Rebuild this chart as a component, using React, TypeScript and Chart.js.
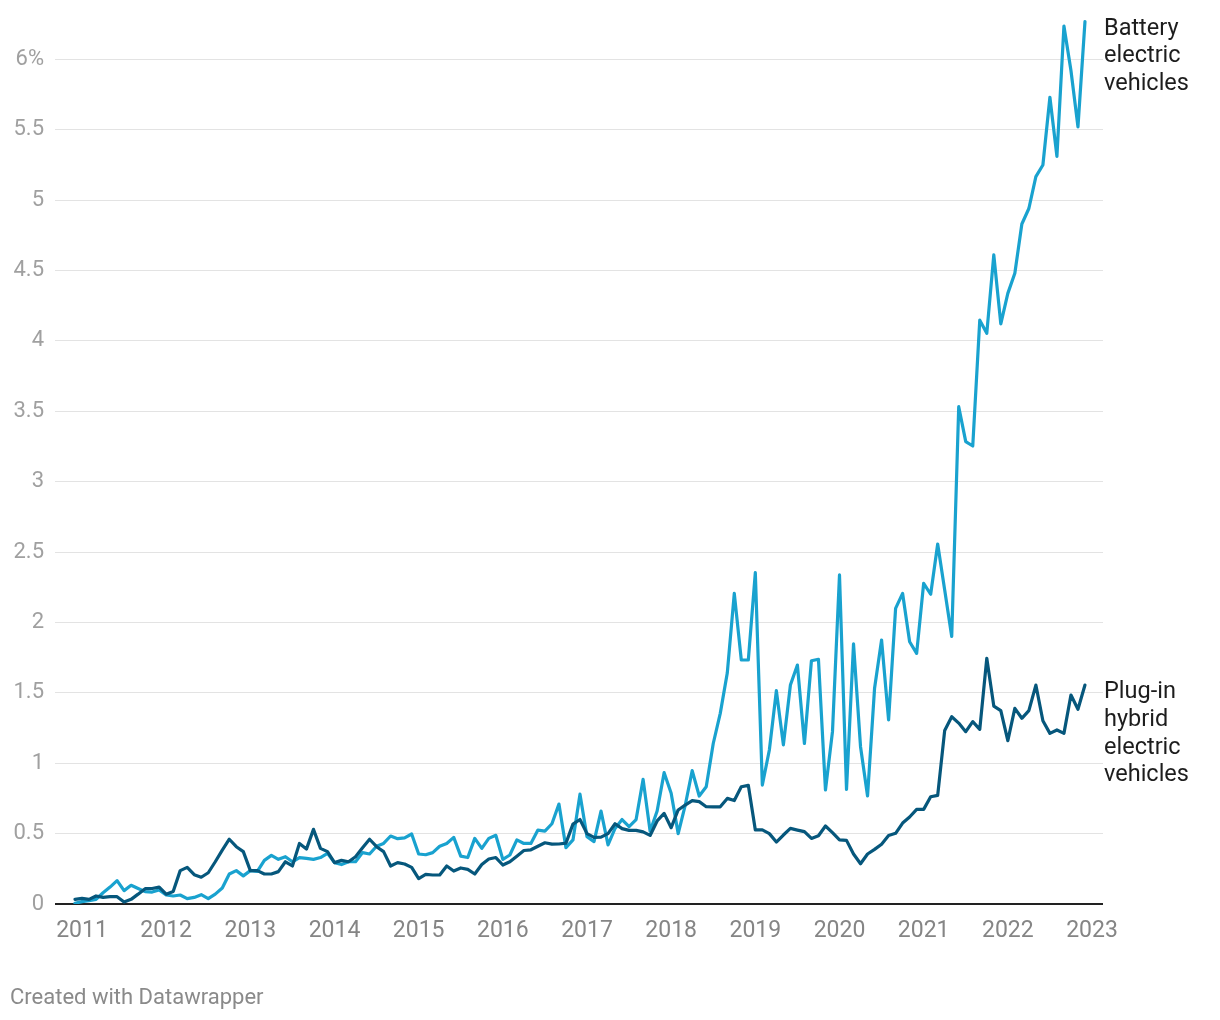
import React, { useEffect, useRef } from "react";
import { Chart, registerables } from "chart.js";

Chart.register(...registerables);

// Monthly share of new car registrations (%), Dec 2010 .. Dec 2022
const FIRST_MONTH_OFFSET = -1; // first point = Dec 2010 (months relative to Jan 2011)

const YEAR_LABELS = ["2011", "2012", "2013", "2014", "2015", "2016", "2017", "2018", "2019", "2020", "2021", "2022", "2023"];
const Y_TICKS = [0, 0.5, 1, 1.5, 2, 2.5, 3, 3.5, 4, 4.5, 5, 5.5, 6];
const Y_TICK_LABELS = ["0", "0.5", "1", "1.5", "2", "2.5", "3", "3.5", "4", "4.5", "5", "5.5", "6%"];

const BEV_LABEL = ["Battery", "electric", "vehicles"];
const PHEV_LABEL = ["Plug-in", "hybrid", "electric", "vehicles"];

const BEV = [
  0.005, 0.017, 0.024, 0.033, 0.08, 0.12, 0.166, 0.095, 0.133, 0.11, 0.088, 0.085, 0.1,
  0.064, 0.057, 0.064, 0.038, 0.047, 0.066, 0.038, 0.07, 0.114, 0.213, 0.237, 0.2,
  0.237, 0.232, 0.31, 0.345, 0.317, 0.336, 0.3, 0.33, 0.324, 0.317, 0.33, 0.36,
  0.294, 0.28, 0.3, 0.3, 0.365, 0.355, 0.41, 0.43, 0.483, 0.464, 0.47, 0.497,
  0.355, 0.35, 0.365, 0.41, 0.43, 0.473, 0.34, 0.33, 0.466, 0.395, 0.466, 0.488,
  0.317, 0.348, 0.455, 0.43, 0.43, 0.525, 0.518, 0.57, 0.71, 0.4, 0.455, 0.78,
  0.478, 0.443, 0.66, 0.42, 0.537, 0.6, 0.55, 0.6, 0.885, 0.517, 0.66, 0.933,
  0.786, 0.5, 0.7, 0.947, 0.767, 0.833, 1.14, 1.354, 1.64, 2.206, 1.733, 1.733,
  2.353, 0.845, 1.094, 1.515, 1.13, 1.555, 1.697, 1.14, 1.728, 1.738, 0.81, 1.224,
  2.337, 0.814, 1.847, 1.117, 0.767, 1.532, 1.875, 1.307, 2.1, 2.206, 1.863, 1.78,
  2.277, 2.2, 2.557, 2.23, 1.9, 3.532, 3.284, 3.253, 4.147, 4.053, 4.61, 4.12,
  4.337, 4.48, 4.83, 4.94, 5.166, 5.249, 5.73, 5.31, 6.236, 5.92, 5.52, 6.267,
];

const PHEV = [
  0.033, 0.04, 0.033, 0.057, 0.047, 0.052, 0.052, 0.014, 0.033, 0.07, 0.109, 0.11, 0.12,
  0.07, 0.088, 0.237, 0.26, 0.208, 0.19, 0.222, 0.3, 0.383, 0.46, 0.407, 0.372,
  0.237, 0.237, 0.213, 0.213, 0.23, 0.3, 0.27, 0.43, 0.39, 0.53, 0.395, 0.372,
  0.294, 0.31, 0.3, 0.336, 0.4, 0.46, 0.407, 0.372, 0.27, 0.294, 0.284, 0.26,
  0.18, 0.21, 0.206, 0.206, 0.27, 0.234, 0.256, 0.246, 0.213, 0.28, 0.32, 0.33,
  0.277, 0.3, 0.34, 0.38, 0.385, 0.41, 0.435, 0.425, 0.426, 0.432, 0.567, 0.6,
  0.5, 0.473, 0.475, 0.5, 0.57, 0.535, 0.523, 0.523, 0.512, 0.487, 0.59, 0.644,
  0.542, 0.668, 0.703, 0.734, 0.727, 0.691, 0.69, 0.69, 0.75, 0.735, 0.833, 0.843,
  0.526, 0.526, 0.5, 0.44, 0.49, 0.537, 0.525, 0.514, 0.466, 0.485, 0.554, 0.507,
  0.455, 0.452, 0.355, 0.286, 0.355, 0.388, 0.425, 0.487, 0.502, 0.575, 0.618, 0.672,
  0.672, 0.762, 0.772, 1.233, 1.33, 1.285, 1.224, 1.295, 1.24, 1.745, 1.406, 1.373,
  1.16, 1.39, 1.319, 1.373, 1.555, 1.302, 1.212, 1.236, 1.212, 1.484, 1.383, 1.555,
];

const LIGHT = "#19a2cf";
const DARK = "#06577c";

const toPoints = (arr: number[]) => arr.map((v, i) => ({ x: i + FIRST_MONTH_OFFSET, y: v }));

const seriesLabelPlugin = {
  id: "seriesLabels",
  afterDatasetsDraw(chart: any) {
    const { ctx, chartArea } = chart;
    const y = chart.scales.y;
    ctx.save();
    ctx.font = "23.5px Roboto";
    ctx.fillStyle = "#1d1d1d";
    ctx.textAlign = "left";
    ctx.textBaseline = "alphabetic";
    const entries: [string[], number][] = [
      [BEV_LABEL, BEV[BEV.length - 1]],
      [PHEV_LABEL, PHEV[PHEV.length - 1]],
    ];
    for (const [lines, last] of entries) {
      const base = y.getPixelForValue(last) + 13;
      lines.forEach((t, k) => ctx.fillText(t, chartArea.right + 1, base + k * 27.8));
    }
    ctx.restore();
  },
};

export default function App() {
  const ref = useRef<HTMLCanvasElement>(null);

  useEffect(() => {
    const canvas = ref.current;
    if (!canvas) return;
    const chart = new Chart(canvas, {
      type: "line",
      data: {
        datasets: [
          {
            label: "Plug-in hybrid electric vehicles",
            data: toPoints(PHEV),
            borderColor: DARK,
            backgroundColor: DARK,
            borderWidth: 3.2,
            pointRadius: 0,
            tension: 0,
            borderJoinStyle: "round",
            borderCapStyle: "round",
          },
          {
            label: "Battery electric vehicles",
            data: toPoints(BEV),
            borderColor: LIGHT,
            backgroundColor: LIGHT,
            borderWidth: 3.2,
            pointRadius: 0,
            tension: 0,
            borderJoinStyle: "round",
            borderCapStyle: "round",
          },
        ],
      },
      options: {
        animation: false,
        responsive: false,
        devicePixelRatio: 1,
        layout: { padding: { left: 0, right: 117, top: 17, bottom: 0 } },
        plugins: { legend: { display: false }, tooltip: { enabled: false } },
        scales: {
          x: {
            type: "linear",
            min: -3.85,
            max: 145.57,
            grid: { display: false, drawTicks: false },
            border: { display: false },
            afterBuildTicks: (s: any) => {
              s.ticks = YEAR_LABELS.map((_, k) => ({ value: k * 12 }));
            },
            ticks: {
              autoSkip: false,
              maxRotation: 0,
              padding: 13,
              color: "#858585",
              font: { family: "Roboto", size: 23 },
              callback: (_v: any, idx: number) => YEAR_LABELS[idx],
            },
            afterFit: (s: any) => {
              s.height = 116;
              s.paddingLeft = 0;
              s.paddingRight = 0;
            },
          },
          y: {
            type: "linear",
            min: 0,
            max: 6.3,
            bounds: "data",
            afterBuildTicks: (s: any) => {
              s.ticks = Y_TICKS.map((v) => ({ value: v }));
            },
            grid: {
              drawTicks: false,
              color: (c: any) => (c.tick && c.tick.value === 0 ? "#222222" : "#e3e3e3"),
              lineWidth: (c: any) => (c.tick && c.tick.value === 0 ? 2 : 1),
            },
            border: { display: false },
            ticks: {
              padding: 11,
              color: "#a0a0a0",
              font: { family: "Roboto", size: 22 },
              callback: (_v: any, idx: number) => Y_TICK_LABELS[idx],
            },
            afterFit: (s: any) => {
              s.width = 55;
              s.paddingTop = 0;
              s.paddingBottom = 0;
            },
          },
        },
      },
      plugins: [seriesLabelPlugin],
    } as any);
    return () => chart.destroy();
  }, []);

  return (
    <div style={{ position: "fixed", left: 0, top: 0, width: 1220, height: 1020, background: "#fff" }}>
      <canvas ref={ref} width={1220} height={1020} style={{ display: "block", width: 1220, height: 1020 }} />
      <div
        style={{
          position: "absolute",
          left: 10,
          top: 986,
          fontFamily: "Roboto",
          fontSize: 22,
          lineHeight: "22px",
          color: "#8a8a8a",
          whiteSpace: "nowrap",
        }}
      >
        Created with Datawrapper
      </div>
    </div>
  );
}
